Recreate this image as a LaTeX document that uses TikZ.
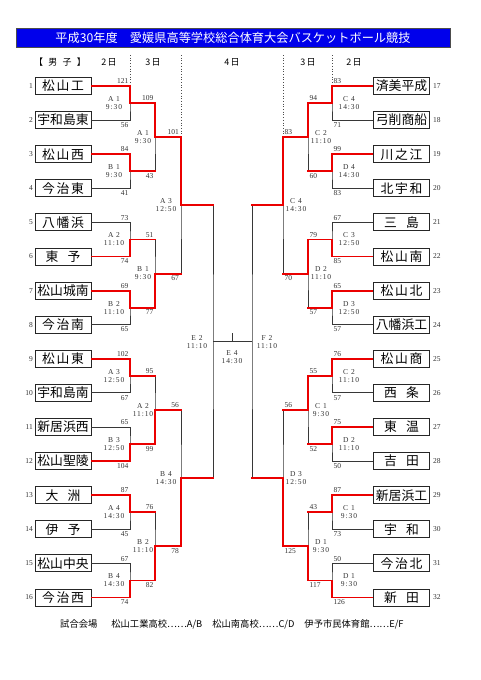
\documentclass[tikz,border=0pt]{standalone}
\usepackage{fontspec}
\setmainfont{Liberation Serif}
\newfontfamily\jp{Noto Sans CJK JP}
\newfontfamily\lblf[LetterSpace=12]{Liberation Serif}
\definecolor{win}{RGB}{235,0,0}
\definecolor{ttl}{RGB}{0,0,235}
\definecolor{lnc}{RGB}{55,55,55}
\newcommand{\Siii}[3]{\makebox[42pt]{#1\hfill#2\hfill#3}}
\newcommand{\Sii}[2]{\makebox[35pt]{#1\hfill#2}}
\begin{document}
\begin{tikzpicture}[x=1pt,y=-1pt,
  team/.style={draw=black!85,line width=0.9pt,minimum width=56pt,minimum height=17pt,inner sep=0pt,font=\jp\fontsize{12.8}{13}\selectfont},
  ln/.style={draw=lnc,line width=0.85pt},
  wn/.style={draw=win,line width=1.9pt,line cap=rect},
  wnb/.style={draw=win,line width=1.9pt,line cap=butt},
  dotl/.style={draw=black!70,line width=0.7pt,dotted},
  sc/.style={font=\fontsize{7.5}{8}\selectfont,inner sep=0pt,text=black!80},
  lbl/.style={font=\lblf\fontsize{7.5}{8}\selectfont,align=center,inner sep=0pt,text=black!80},
  num/.style={font=\fontsize{7.5}{8}\selectfont,inner sep=0pt,text=black!80},
  hdr/.style={font=\jp\fontsize{9}{9}\selectfont,inner sep=0pt}]
\useasboundingbox (0,0) rectangle (481,680);
\fill[white] (0,0) rectangle (481,680);

% title
\node[draw=black!70,fill=ttl,text=white,minimum width=434pt,minimum height=19.5pt,inner sep=0pt,font=\jp\fontsize{12.2}{12}\selectfont] (title) at (233,37.75) {平成30年度　愛媛県高等学校総合体育大会バスケットボール競技};

% header row
\node[hdr] (hsex) at (60,62.5) {\makebox[52pt]{【\hfill 男\hfill 子\hfill 】}};
\node[hdr] (hd2L) at (109,62.5) {2\,日};
\node[hdr] (hd3L) at (153,62.5) {3\,日};
\node[hdr] (hd4) at (232,62.5) {4\,日};
\node[hdr] (hd3R) at (308,62.5) {3\,日};
\node[hdr] (hd2R) at (354,62.5) {2\,日};

% teams left
\foreach \i/\n in {1/{\Siii{松}{山}{工}},2/宇和島東,3/{\Siii{松}{山}{西}},4/{\Siii{今}{治}{東}},
  5/{\Siii{八}{幡}{浜}},6/{\Sii{東}{予}},7/松山城南,8/{\Siii{今}{治}{南}},
  9/{\Siii{松}{山}{東}},10/宇和島南,11/新居浜西,12/松山聖陵,
  13/{\Sii{大}{洲}},14/{\Sii{伊}{予}},15/松山中央,16/{\Siii{今}{治}{西}}}{
  \node[team] (T\i) at (63,{86+(\i-1)*34.1}) {\n};
  \node[num,anchor=east] (N\i) at (33,{86+(\i-1)*34.1}) {\i};
}
% teams right
\foreach \i/\n in {17/済美平成,18/弓削商船,19/{\Siii{川}{之}{江}},20/{\Siii{北}{宇}{和}},
  21/{\Sii{三}{島}},22/{\Siii{松}{山}{南}},23/{\Siii{松}{山}{北}},24/八幡浜工,
  25/{\Siii{松}{山}{商}},26/{\Sii{西}{条}},27/{\Sii{東}{温}},28/{\Sii{吉}{田}},
  29/新居浜工,30/{\Sii{宇}{和}},31/{\Siii{今}{治}{北}},32/{\Sii{新}{田}}}{
  \node[team] (T\i) at (401.5,{86+(\i-17)*34.1}) {\n};
  \node[num,anchor=west] (N\i) at (433,{86+(\i-17)*34.1}) {\i};
}

% match points
\foreach \k in {1,...,8}{
  \coordinate (L1-\k) at (130,{86+(2*\k-1.5)*34.1});
  \coordinate (R1-\k) at (332,{86+(2*\k-1.5)*34.1});
}
\foreach \k in {1,...,4}{
  \coordinate (L2-\k) at (155,{86+(4*\k-2.5)*34.1});
  \coordinate (R2-\k) at (308,{86+(4*\k-2.5)*34.1});
}
\foreach \k in {1,2}{
  \coordinate (L3-\k) at (181,{86+(8*\k-4.5)*34.1});
  \coordinate (R3-\k) at (283,{86+(8*\k-4.5)*34.1});
}
\coordinate (L4) at (213,341.75);
\coordinate (R4) at (252,341.75);
\coordinate (Fin) at (232,341.75);
\coordinate (FinTop) at (232,332.5);

% dotted day separators
\coordinate (DL1) at (130,55);
\coordinate (DL2) at (181,55);
\coordinate (DR1) at (332,55);
\coordinate (DR2) at (283,55);
\draw[dotl] (DL1) -- (L1-1 |- T1.east);
\draw[dotl] (DL2) -- (L3-1 |- L2-1);
\draw[dotl] (DR1) -- (R1-1 |- T17.west);
\draw[dotl] (DR2) -- (R3-1 |- R2-1);

% black bracket lines
\foreach \k in {1,...,8}{
  \pgfmathtruncatemacro\a{2*\k-1}\pgfmathtruncatemacro\b{2*\k}
  \pgfmathtruncatemacro\c{16+2*\k-1}\pgfmathtruncatemacro\d{16+2*\k}
  \draw[ln] (T\a.east) -| (L1-\k) |- (T\b.east);
  \draw[ln] (T\c.west) -| (R1-\k) |- (T\d.west);
}
\foreach \k in {1,...,4}{
  \pgfmathtruncatemacro\a{2*\k-1}\pgfmathtruncatemacro\b{2*\k}
  \draw[ln] (L1-\a) -| (L2-\k) |- (L1-\b);
  \draw[ln] (R1-\a) -| (R2-\k) |- (R1-\b);
}
\foreach \k in {1,2}{
  \pgfmathtruncatemacro\a{2*\k-1}\pgfmathtruncatemacro\b{2*\k}
  \draw[ln] (L2-\a) -| (L3-\k) |- (L2-\b);
  \draw[ln] (R2-\a) -| (R3-\k) |- (R2-\b);
}
\draw[ln] (L3-1) -| (L4) |- (L3-2);
\draw[ln] (R3-1) -| (R4) |- (R3-2);
\draw[ln] (L4) -- (R4);
\draw[ln] (Fin) -- (FinTop);

% ---- left round 1
\foreach \k/\w/\lab/\tm/\st/\sb in {1/t/A 1/9:30/121/56,2/t/B 1/9:30/84/41,3/b/A 2/11:10/73/74,4/t/B 2/11:10/69/65,
  5/t/A 3/12:50/102/67,6/b/B 3/12:50/65/104,7/t/A 4/14:30/87/45,8/b/B 4/14:30/67/74}{
  \pgfmathtruncatemacro\a{2*\k-1}\pgfmathtruncatemacro\b{2*\k}
  \if\w t \draw[wnb] (T\a.east) -| (L1-\k); \else \draw[wnb] (T\b.east) -| (L1-\k); \fi
  \node[sc,anchor=south east,xshift=-1.5pt,yshift=2pt] (SL1-\k-t) at (L1-\k |- T\a.east) {\st};
  \node[sc,anchor=north east,xshift=-1.5pt,yshift=-2pt] (SL1-\k-b) at (L1-\k |- T\b.east) {\sb};
  \node[lbl] (ML1-\k) at ([xshift=-16pt]L1-\k) {\lab\\\tm};
}
% ---- right round 1
\foreach \k/\w/\lab/\tm/\st/\sb in {1/t/C 4/14:30/83/71,2/t/D 4/14:30/99/83,3/b/C 3/12:50/67/85,4/t/D 3/12:50/65/57,
  5/t/C 2/11:10/76/57,6/t/D 2/11:10/75/50,7/t/C 1/9:30/87/73,8/b/D 1/9:30/50/126}{
  \pgfmathtruncatemacro\a{16+2*\k-1}\pgfmathtruncatemacro\b{16+2*\k}
  \if\w t \draw[wnb] (T\a.west) -| (R1-\k); \else \draw[wnb] (T\b.west) -| (R1-\k); \fi
  \node[sc,anchor=south west,xshift=1.5pt,yshift=2pt] (SR1-\k-t) at (R1-\k |- T\a.west) {\st};
  \node[sc,anchor=north west,xshift=1.5pt,yshift=-2pt] (SR1-\k-b) at (R1-\k |- T\b.west) {\sb};
  \node[lbl] (MR1-\k) at ([xshift=17pt]R1-\k) {\lab\\\tm};
}
% ---- left round 2
\foreach \k/\w/\lab/\tm/\st/\sb in {1/t/A 1/9:30/109/43,2/b/B 1/9:30/51/77,3/b/A 2/11:10/95/99,4/b/B 2/11:10/76/82}{
  \pgfmathtruncatemacro\a{2*\k-1}\pgfmathtruncatemacro\b{2*\k}
  \if\w t \draw[wn] (L1-\a) -| (L2-\k); \draw[wn] (L1-\b) -- (L1-\b -| L2-\k);
  \else \draw[wn] (L1-\b) -| (L2-\k); \draw[wn] (L1-\a) -- (L1-\a -| L2-\k); \fi
  \node[sc,anchor=south east,xshift=-1.5pt,yshift=2pt] (SL2-\k-t) at (L2-\k |- L1-\a) {\st};
  \node[sc,anchor=north east,xshift=-1.5pt,yshift=-2pt] (SL2-\k-b) at (L2-\k |- L1-\b) {\sb};
  \node[lbl] (ML2-\k) at ([xshift=-12pt]L2-\k) {\lab\\\tm};
}
% ---- right round 2
\foreach \k/\w/\lab/\tm/\st/\sb in {1/t/C 2/11:10/94/60,2/t/D 2/11:10/79/57,3/t/C 1/9:30/55/52,4/b/D 1/9:30/43/117}{
  \pgfmathtruncatemacro\a{2*\k-1}\pgfmathtruncatemacro\b{2*\k}
  \if\w t \draw[wn] (R1-\a) -| (R2-\k); \draw[wn] (R1-\b) -- (R1-\b -| R2-\k);
  \else \draw[wn] (R1-\b) -| (R2-\k); \draw[wn] (R1-\a) -- (R1-\a -| R2-\k); \fi
  \node[sc,anchor=south west,xshift=1.5pt,yshift=2pt] (SR2-\k-t) at (R2-\k |- R1-\a) {\st};
  \node[sc,anchor=north west,xshift=1.5pt,yshift=-2pt] (SR2-\k-b) at (R2-\k |- R1-\b) {\sb};
  \node[lbl] (MR2-\k) at ([xshift=13pt]R2-\k) {\lab\\\tm};
}
% ---- left round 3
\foreach \k/\w/\lab/\tm/\st/\sb in {1/t/A 3/12:50/101/67,2/b/B 4/14:30/56/78}{
  \pgfmathtruncatemacro\a{2*\k-1}\pgfmathtruncatemacro\b{2*\k}
  \if\w t \draw[wn] (L2-\a) -| (L3-\k); \draw[wn] (L2-\b) -- (L2-\b -| L3-\k);
  \else \draw[wn] (L2-\b) -| (L3-\k); \draw[wn] (L2-\a) -- (L2-\a -| L3-\k); \fi
  \node[sc,anchor=south east,xshift=-2pt,yshift=2pt] (SL3-\k-t) at (L3-\k |- L2-\a) {\st};
  \node[sc,anchor=north east,xshift=-2pt,yshift=-2pt] (SL3-\k-b) at (L3-\k |- L2-\b) {\sb};
  \node[lbl] (ML3-\k) at ([xshift=-15pt]L3-\k) {\lab\\\tm};
}
% ---- right round 3
\foreach \k/\w/\lab/\tm/\st/\sb in {1/t/C 4/14:30/83/70,2/b/D 3/12:50/56/125}{
  \pgfmathtruncatemacro\a{2*\k-1}\pgfmathtruncatemacro\b{2*\k}
  \if\w t \draw[wn] (R2-\a) -| (R3-\k); \draw[wn] (R2-\b) -- (R2-\b -| R3-\k);
  \else \draw[wn] (R2-\b) -| (R3-\k); \draw[wn] (R2-\a) -- (R2-\a -| R3-\k); \fi
  \node[sc,anchor=south west,xshift=1.5pt,yshift=2pt] (SR3-\k-t) at (R3-\k |- R2-\a) {\st};
  \node[sc,anchor=north west,xshift=1.5pt,yshift=-2pt] (SR3-\k-b) at (R3-\k |- R2-\b) {\sb};
  \node[lbl] (MR3-\k) at ([xshift=13pt]R3-\k) {\lab\\\tm};
}
% ---- semifinal feeds
\draw[wn] (L3-1) -- (L3-1 -| L4);
\draw[wn] (L3-2) -- (L3-2 -| L4);
\draw[wn] (R3-1) -- (R3-1 -| R4);
\draw[wn] (R3-2) -- (R3-2 -| R4);

% semifinal / final labels
\node[lbl] (ME2) at ([xshift=-16pt]L4) {E 2\\11:10};
\node[lbl] (MF2) at ([xshift=15pt]R4) {F 2\\11:10};
\node[lbl] (ME4) at ([yshift=-15pt]Fin) {E 4\\14:30};

% footer
\node[font=\jp\fontsize{9.3}{9}\selectfont,anchor=west,inner sep=0pt] (foot) at (60,624) {試合会場\hspace{14pt}松山工業高校……A/B\hspace{10pt}松山南高校……C/D\hspace{10pt}伊予市民体育館……E/F};
\end{tikzpicture}
\end{document}
